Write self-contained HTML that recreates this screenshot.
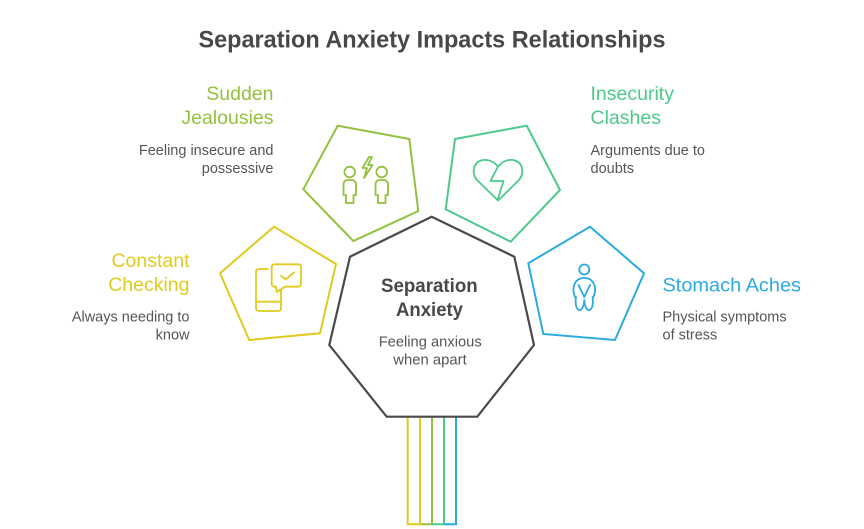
<!DOCTYPE html>
<html>
<head>
<meta charset="utf-8">
<style>
  html,body{margin:0;padding:0;background:#fff;}
  svg{display:block;}
  text{font-family:"Liberation Sans",Arial,sans-serif;}
</style>
</head>
<body>
<svg width="864" height="529" viewBox="0 0 864 529" xmlns="http://www.w3.org/2000/svg">
  <rect width="864" height="529" fill="#fff"/>

  <!-- Title -->
  <text x="198.5" y="47.5" font-size="24" font-weight="bold" fill="#484848" textLength="467" lengthAdjust="spacingAndGlyphs">Separation Anxiety Impacts Relationships</text>

  <!-- Bottom connector lines -->
  <g fill="none" stroke-width="2" stroke-linejoin="miter">
    <path d="M420,417 V524.3 H432 V417" stroke="#93c13e"/>
    <path d="M432,524.3 H444 V417" stroke="#4cc98b"/>
    <path d="M444,524.3 H456 V417" stroke="#2aaadf"/>
    <path d="M407.7,417 V524.3 H420 V417" stroke="#dfcb1f"/>
  </g>

  <!-- Pentagons -->
  <polygon points="337.7,125.7 409.3,139 418.3,211 353.3,241 303.3,189.3" fill="#fff" stroke="#93c13e" stroke-width="2"/>
  <polygon points="274,226.7 336,264 320,333.3 249.3,340 220,273.3" fill="#fff" stroke="#dfcb1f" stroke-width="2"/>
  <polygon points="526.7,125.7 560,190 510.7,241.7 445.7,209.3 455,139" fill="#fff" stroke="#4cc98b" stroke-width="2"/>
  <polygon points="590,226.7 644,273.3 615,340 543.3,334 528.3,263.3" fill="#fff" stroke="#2aaadf" stroke-width="2"/>

  <!-- Central heptagon -->
  <polygon points="431.7,216.7 514.3,256.7 534,345 477.3,416.7 386.7,416.7 329.3,345 350,256.7" fill="#fff" stroke="#4a4a4a" stroke-width="2.2"/>

  <!-- Icon: two people with lightning (lime) -->
  <g fill="none" stroke="#93c13e" stroke-width="1.8" stroke-linejoin="round" stroke-linecap="round">
    <circle cx="349.7" cy="172" r="5.3"/>
    <path d="M343.5,195 V185 Q343.5,180 348,180 H351.5 Q356,180 356,185 V195 H353.5 V203 H346 V195 Z"/>
    <circle cx="381.7" cy="172" r="5.3"/>
    <path d="M375.5,195 V185 Q375.5,180 380,180 H383.5 Q388,180 388,185 V195 H385.5 V203 H378 V195 Z"/>
    <path d="M369,157 L362.5,168 L367,168 L364,178 L372.5,165 L368,165 L372,157 Z"/>
  </g>

  <!-- Icon: phone with check bubble (yellow) -->
  <g fill="none" stroke="#dfcb1f" stroke-width="1.8" stroke-linejoin="round" stroke-linecap="round">
    <path d="M268,269 H259 Q256,269 256,272 V308 Q256,311 259,311 H278 Q281,311 281,308 V290"/>
    <path d="M256,301.7 H281"/>
    <path d="M274.7,264.3 H298 Q301,264.3 301,267.3 V283.7 Q301,286.7 298,286.7 H285 L276.7,292 L276,286.7 H274.7 Q271.7,286.7 271.7,283.7 V267.3 Q271.7,264.3 274.7,264.3 Z"/>
    <path d="M281,275.7 L285.7,279.5 L294.3,272.3"/>
  </g>

  <!-- Icon: broken heart (green) -->
  <g fill="none" stroke="#4cc98b" stroke-width="1.8" stroke-linejoin="round" stroke-linecap="round">
    <path d="M498,200.5 L478,181 C471,174 473,163 481,160.5 C488,158.5 494,162 498,166.5 C502,162 508,158.5 515,160.5 C523,163 525,174 518,181 Z"/>
    <path d="M498,166.5 L490.5,181 L503.5,181 L497.5,200"/>
  </g>

  <!-- Icon: person with stomach ache (blue) -->
  <g fill="none" stroke="#2aaadf" stroke-width="1.8" stroke-linejoin="round" stroke-linecap="round">
    <circle cx="584.3" cy="269.5" r="5"/>
    <path d="M575,297 C571,287 575,278 584.3,278 C593.5,278 597.5,287 593.5,297"/>
    <path d="M578.5,285 L584.3,297 L590,285"/>
    <path d="M576,297 C575,303 576,309 579,310 C582,310.5 584,306 584.3,300 C584.6,306 586.5,310.5 589.5,310 C592.5,309 593.5,303 592.5,297"/>
  </g>

  <!-- Center text -->
  <text x="381" y="292" font-size="19" font-weight="bold" fill="#484848" textLength="96.7" lengthAdjust="spacingAndGlyphs">Separation</text>
  <text x="396" y="316" font-size="19" font-weight="bold" fill="#484848" textLength="67" lengthAdjust="spacingAndGlyphs">Anxiety</text>
  <text x="378.7" y="346.7" font-size="15" fill="#555" textLength="103" lengthAdjust="spacingAndGlyphs">Feeling anxious</text>
  <text x="393.3" y="364.5" font-size="15" fill="#555" textLength="73.4" lengthAdjust="spacingAndGlyphs">when apart</text>

  <!-- Sudden Jealousies (right-aligned at 273.5) -->
  <text x="273.5" y="100" font-size="19.5" fill="#93c13e" text-anchor="end">Sudden</text>
  <text x="273.5" y="124" font-size="19.5" fill="#93c13e" text-anchor="end">Jealousies</text>
  <text x="273.5" y="155" font-size="14.5" fill="#555" text-anchor="end">Feeling insecure and</text>
  <text x="273.5" y="173" font-size="14.5" fill="#555" text-anchor="end">possessive</text>

  <!-- Insecurity Clashes -->
  <text x="590.5" y="100" font-size="19.5" fill="#4cc98b">Insecurity</text>
  <text x="590.5" y="124" font-size="19.5" fill="#4cc98b">Clashes</text>
  <text x="590.5" y="155" font-size="14.5" fill="#555">Arguments due to</text>
  <text x="590.5" y="173" font-size="14.5" fill="#555">doubts</text>

  <!-- Constant Checking -->
  <text x="189.5" y="267" font-size="19.5" fill="#dfcb1f" text-anchor="end">Constant</text>
  <text x="189.5" y="291" font-size="19.5" fill="#dfcb1f" text-anchor="end">Checking</text>
  <text x="189.5" y="321.5" font-size="14.5" fill="#555" text-anchor="end">Always needing to</text>
  <text x="189.5" y="339.5" font-size="14.5" fill="#555" text-anchor="end">know</text>

  <!-- Stomach Aches -->
  <text x="662.5" y="291.5" font-size="19.5" fill="#2aaadf" textLength="138.5" lengthAdjust="spacingAndGlyphs">Stomach Aches</text>
  <text x="662.5" y="321.5" font-size="14.5" fill="#555">Physical symptoms</text>
  <text x="662.5" y="339.5" font-size="14.5" fill="#555">of stress</text>
</svg>
</body>
</html>
